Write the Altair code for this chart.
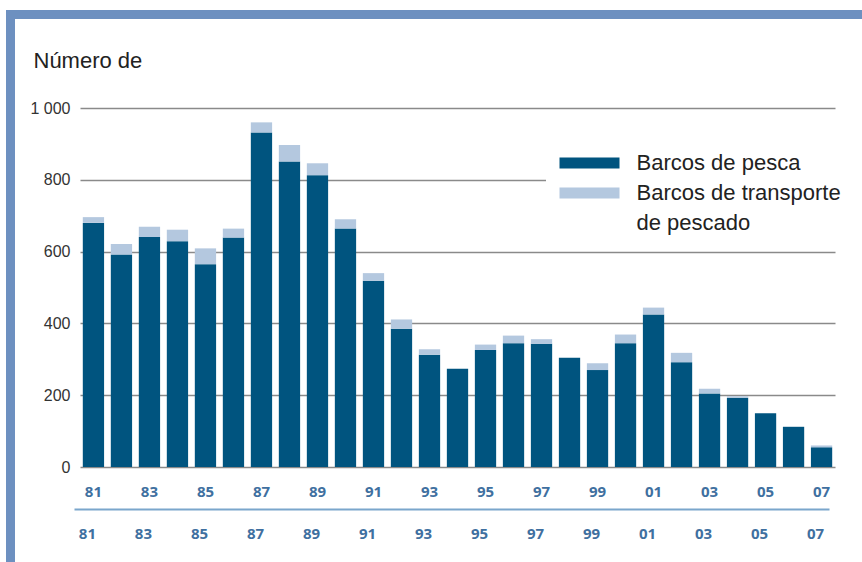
import altair as alt
import pandas as pd

years = ["81", "82", "83", "84", "85", "86", "87", "88", "89", "90", "91", "92", "93", "94",
         "95", "96", "97", "98", "99", "00", "01", "02", "03", "04", "05", "06", "07"]
pesca = [680, 592, 641, 629, 565, 639, 932, 851, 813, 664, 519, 385, 313, 274,
         326, 345, 343, 304, 270, 345, 425, 292, 205, 193, 150, 112, 55]
transporte = [16, 29, 28, 32, 44, 25, 28, 46, 33, 26, 21, 26, 15, 0,
              15, 21, 13, 0, 19, 24, 19, 26, 13, 4, 0, 0, 5]
odd_years = ["81", "83", "85", "87", "89", "91", "93", "95", "97", "99", "01", "03", "05", "07"]
y_ticks = [0, 200, 400, 600, 800, 1000]

S_PESCA = "Barcos de pesca"
S_TRANS = "Barcos de transporte"
S_TRANS2 = "de pescado"   # second line of the legend label
DARK = "#00547f"
LIGHT = "#b4c8df"
BORDER = "#6d90c0"

rows = []
for y, p, t in zip(years, pesca, transporte):
    rows.append({"year": y, "tipo": S_PESCA, "valor": p, "orden": 0})
    rows.append({"year": y, "tipo": S_TRANS, "valor": t, "orden": 1})
df = pd.DataFrame(rows)
df_years = pd.DataFrame({"year": years})

xscale = alt.Scale(domain=years, paddingInner=0.24, paddingOuter=0.1)

bars = alt.Chart(df).mark_bar().encode(
    x=alt.X("year:N", sort=years, scale=xscale, title=None,
            axis=alt.Axis(values=odd_years, labelAngle=0, domain=False, ticks=False,
                          labelPadding=17, labelFont="Open Sans", labelFontWeight="bold",
                          labelFontSize=15, labelColor="#3f70a0")),
    y=alt.Y("valor:Q", stack="zero", scale=alt.Scale(domain=[0, 1000]),
            title="Número de",
            axis=alt.Axis(values=y_ticks, domain=False, ticks=False, labelPadding=10,
                          labelFont="Liberation Sans", labelFontSize=16, labelColor="#333333",
                          labelExpr="datum.value == 1000 ? '1 000' : datum.label",
                          gridColor="#8a8a8a", gridWidth=1.5,
                          titleAngle=0, titleX=-47, titleY=-41, titleAlign="left",
                          titleBaseline="alphabetic", titleFont="Liberation Sans",
                          titleFontSize=22, titleFontWeight="normal", titleColor="#222222")),
    color=alt.Color("tipo:N",
                    scale=alt.Scale(domain=[S_PESCA, S_TRANS, S_TRANS2],
                                    range=[DARK, LIGHT, "rgba(255,255,255,0)"]),
                    legend=alt.Legend(title=None, orient="none", legendX=466, legendY=36,
                                      symbolType="M-5.4545,-1H5.4545V1H-5.4545Z", symbolSize=121,
                                      symbolOffset=24.5,
                                      symbolStrokeWidth=0, labelFont="Liberation Sans",
                                      labelFontSize=22, labelColor="#222222", labelLimit=400,
                                      labelOffset=36, rowPadding=8, padding=8,
                                      fillColor="white")),
    order=alt.Order("orden:Q"),
)

axis2 = alt.Chart(df_years).mark_rule(opacity=0).encode(
    x=alt.X("year:N", sort=years, scale=xscale, title=None,
            axis=alt.Axis(orient="bottom", offset=48, translate=-5.5, values=odd_years,
                          labelAngle=0, domain=True, domainColor="#7aa6cc", domainWidth=2,
                          ticks=False, labelPadding=17, labelFont="Open Sans",
                          labelFontWeight="bold", labelFontSize=15, labelColor="#3f70a0")),
)

border_left = alt.Chart(df_years).mark_rule(color=BORDER, strokeWidth=9, strokeCap="butt").encode(
    x=alt.value(-69.5), y=alt.value(-98), y2=alt.value(460))
border_top = alt.Chart(df_years).mark_rule(color=BORDER, strokeWidth=9, strokeCap="butt").encode(
    x=alt.value(-74), x2=alt.value(790), y=alt.value(-93.5))

chart = alt.layer(bars, axis2, border_left, border_top).resolve_scale(
    x="independent"
).properties(
    width=755, height=359,
    autosize=alt.AutoSizeParams(type="none"),
    padding={"left": 80, "top": 108, "right": 27, "bottom": 95},
    background="white",
).configure_view(stroke=None)

chart.save("out.html", embed_options={"renderer": "svg", "actions": False})
